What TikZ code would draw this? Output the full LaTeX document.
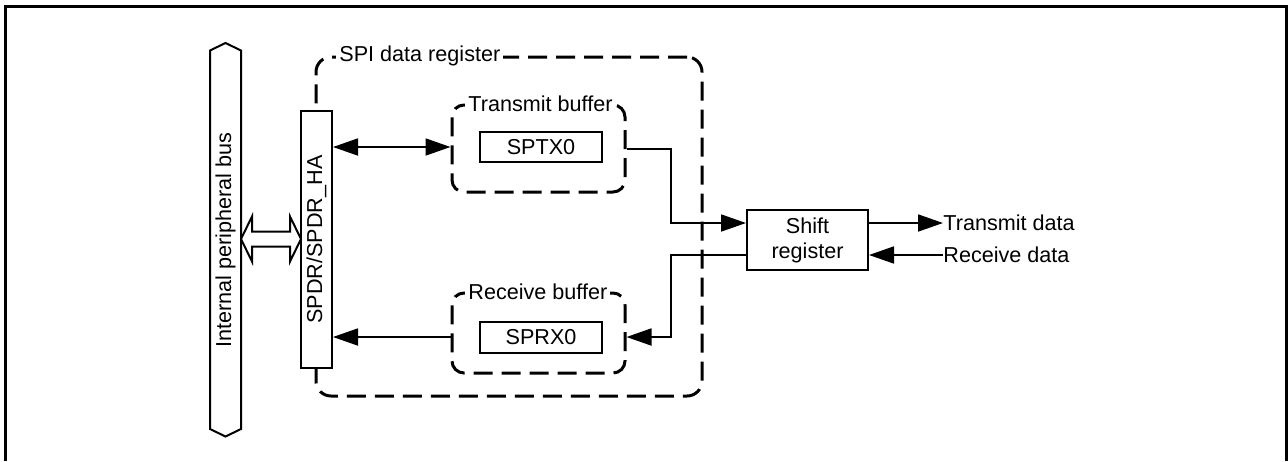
\documentclass[tikz,border=0pt]{standalone}
\usepackage{fontspec}
\setmainfont{Liberation Sans}
\usetikzlibrary{arrows.meta, calc}
\tikzset{
  regbox/.style={draw, line width=1pt, minimum width=61pt, minimum height=15pt,
    inner sep=0pt, align=center},
  grpbox/.style={draw, line width=1.5pt, dash pattern=on 9.5pt off 4.5pt,
    rounded corners=6pt, inner sep=0pt},
  grplabel/.style={fill=white, inner sep=1.5pt, anchor=west},
  flow/.style={-{Triangle[length=12.5pt, width=8.5pt]}, line width=0.9pt},
  flowboth/.style={{Triangle[length=12.5pt, width=8.5pt]}-{Triangle[length=12.5pt, width=8.5pt]}, line width=0.9pt},
  sigtext/.style={anchor=west, inner sep=0pt},
}
\begin{document}
\begin{tikzpicture}[x=0.5pt, y=-0.5pt, font=\fontsize{10.8}{12.5}\selectfont]
  \useasboundingbox (0,0) rectangle (1288,461);
  % frame
  \draw[line width=1.5pt] (5.5,461) -- (5.5,6.5) -- (1286.5,6.5) -- (1286.5,461);

  % internal bus
  \draw[line width=1pt] (210,50.5) -- (225.5,43) -- (241,50.5) -- (241,429)
    -- (225.5,436.5) -- (210,429) -- cycle;
  \node[rotate=90] (bus) at (225.5,240) {Internal peripheral bus};

  % SPI data register group
  \node[grpbox, rounded corners=7.5pt, minimum width=193pt, minimum height=169.5pt] (spi) at (509,226.5) {};
  \node[grplabel] (spilbl) at (336,56) {SPI data register};
  \node[regbox, rotate=90, minimum width=128.5pt, minimum height=15.5pt, fill=white] (spdr) at (316.5,239.5) {SPDR/SPDR\_HA};

  % buffers
  \node[grpbox, minimum width=86.5pt, minimum height=43.5pt] (txbuf) at (538.5,148.5) {};
  \node[grplabel] (txlbl) at (465,104) {Transmit buffer};
  \node[regbox] (sptx) at (541,147) {SPTX0};
  \node[grpbox, minimum width=86.5pt, minimum height=40pt] (rxbuf) at (538.5,333) {};
  \node[grplabel] (rxlbl) at (465,292) {Receive buffer};
  \node[regbox, minimum height=15.5pt] (sprx) at (541,337) {SPRX0};

  % shift register
  \node[regbox, minimum width=60.5pt, minimum height=30pt] (shift) at (807.5,240) {Shift\\register};
  \coordinate (tin)  at ($(shift.west)+(0,-17)$);
  \coordinate (rout) at ($(shift.west)+(0,15)$);
  \coordinate (tout) at ($(shift.east)+(0,-17)$);
  \coordinate (rin)  at ($(shift.east)+(0,15)$);
  \coordinate (jx) at (671,0);

  \node[sigtext] (txd) at (943,223) {Transmit data};
  \node[sigtext] (rxd) at (943,255) {Receive data};

  % bus <-> SPDR
  \draw[line width=1pt] (241,239) -- (252,216.5) -- (252,231.5) -- (290,231.5) -- (290,216.5)
    -- (301,239) -- (290,261.5) -- (290,246.5) -- (252,246.5) -- (252,261.5) -- cycle;

  % data paths
  \draw[flowboth] (spdr.south |- sptx) -- (txbuf.west |- sptx);
  \draw[flow] (rxbuf.west |- sprx) -- (spdr.south |- sprx);
  \draw[flow] (txbuf.east |- 0,149) -| (jx |- tin) -- (tin);
  \draw[flow] (rout) -| (jx |- sprx) -- (rxbuf.east |- sprx);
  \draw[flow] (tout) -- (txd.west);
  \draw[flow] (rxd.west) -- (rin);
\end{tikzpicture}
\end{document}
